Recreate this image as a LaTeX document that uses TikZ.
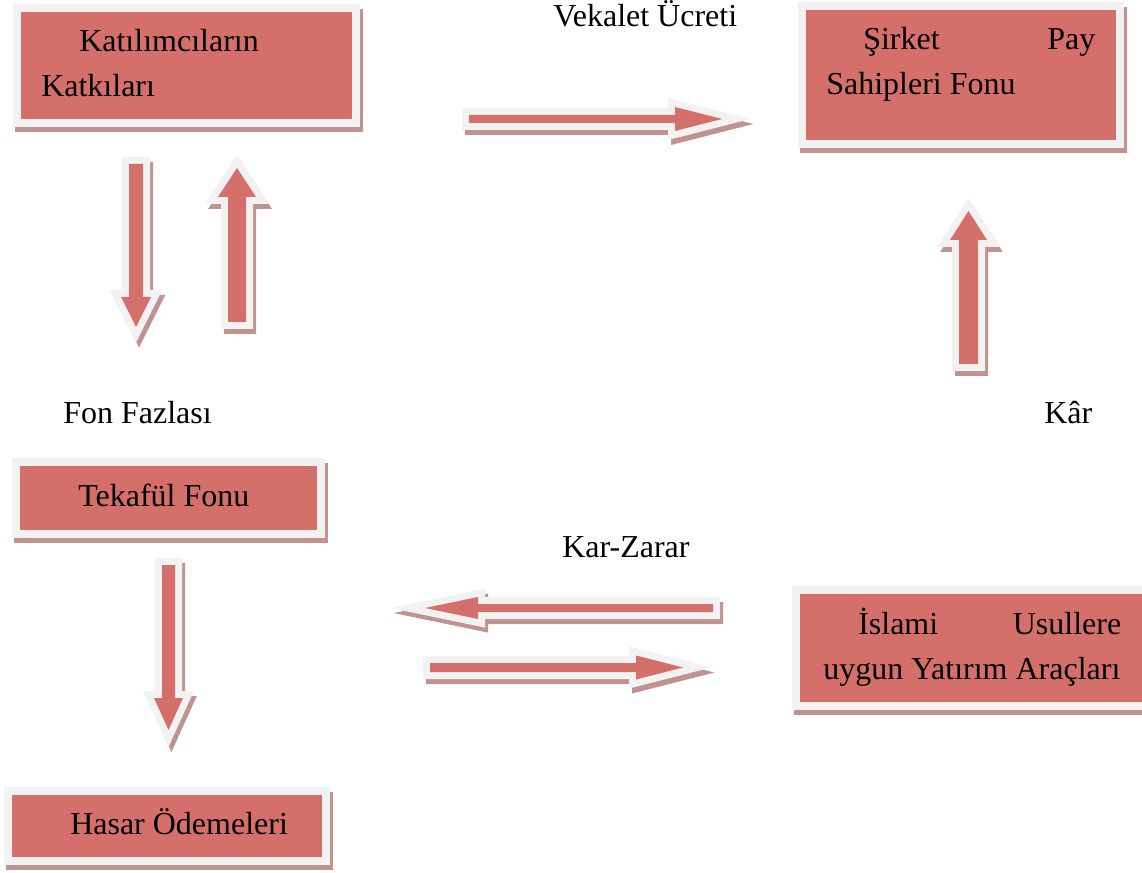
\documentclass[tikz,border=0pt]{standalone}
\usepackage{fontspec}
\setmainfont{Liberation Serif}
\usetikzlibrary{fit}
\definecolor{redc}{HTML}{D46F6A}
\definecolor{lightg}{HTML}{F2F2F2}
\definecolor{shadowc}{HTML}{C09391}
\tikzset{
  redbox/.style={draw=lightg, line width=6pt, fill=redc, inner sep=0pt},
  lbl/.style={anchor=base west, inner sep=0pt, font=\fontsize{24}{33.75}\selectfont},
}
% box: name, inner red x1,y1,x2,y2 (px)
\newcommand\tbox[5]{%
  \fill[shadowc] (#2-6,#3-3) rectangle (#4+11,#5+13);
  \node[redbox, fit={(#2-4,#3-4) (#4+4,#5+4)}] (#1) {};
}
% horizontal block arrow: shaft start xs, head base xh, tip xt, centre y c, half shaft h, half head H
\newcommand\harrow[6]{%
  \filldraw[shadowc, line width=10.5pt, shift={(3,5)}]
    (#1,#4-#5) -- (#2,#4-#5) -- (#2,#4-#6) -- (#3,#4) -- (#2,#4+#6) -- (#2,#4+#5) -- (#1,#4+#5) -- cycle;
  \draw[lightg, line width=10.5pt]
    (#1,#4-#5) -- (#2,#4-#5) -- (#2,#4-#6) -- (#3,#4) -- (#2,#4+#6) -- (#2,#4+#5) -- (#1,#4+#5) -- cycle;
  \fill[redc]
    (#1,#4-#5) -- (#2,#4-#5) -- (#2,#4-#6) -- (#3,#4) -- (#2,#4+#6) -- (#2,#4+#5) -- (#1,#4+#5) -- cycle;
}
% vertical block arrow: shaft start ys, head base yh, tip yt, centre x c, half shaft h, half head H
\newcommand\varrow[6]{%
  \filldraw[shadowc, line width=10.5pt, shift={(3,5)}]
    (#4-#5,#1) -- (#4-#5,#2) -- (#4-#6,#2) -- (#4,#3) -- (#4+#6,#2) -- (#4+#5,#2) -- (#4+#5,#1) -- cycle;
  \draw[lightg, line width=10.5pt]
    (#4-#5,#1) -- (#4-#5,#2) -- (#4-#6,#2) -- (#4,#3) -- (#4+#6,#2) -- (#4+#5,#2) -- (#4+#5,#1) -- cycle;
  \fill[redc]
    (#4-#5,#1) -- (#4-#5,#2) -- (#4-#6,#2) -- (#4,#3) -- (#4+#6,#2) -- (#4+#5,#2) -- (#4+#5,#1) -- cycle;
}
\begin{document}
\begin{tikzpicture}[x=0.75pt, y=-0.75pt]
\useasboundingbox (0,0) rectangle (1142,873);

% boxes
\tbox{katki}{21}{12}{352}{119}
\tbox{sirket}{806}{10}{1116}{140}
\tbox{tekaful}{20}{466}{317}{530}
\tbox{hasar}{12}{795}{322}{857}
\tbox{islami}{800}{594}{1160}{702}

% box texts
\node[lbl] (tkatki) at (41,52) {\parbox[t]{290pt}{\hspace*{28.5pt}Katılımcıların\\Katkıları}};
\node[lbl] (tsirket) at (826,50) {\parbox[t]{201.75pt}{\hspace*{27.75pt}Şirket\hfill Pay\\Sahipleri Fonu}};
\node[lbl] (ttekaful) at (78,506) {Tekafül Fonu};
\node[lbl] (thasar) at (70,834) {Hasar Ödemeleri};
\node[lbl] (tislami) at (823,634) {\parbox[t]{223.5pt}{\hspace*{26.25pt}İslami\hfill Usullere\\uygun Yatırım Araçları}};

% labels
\node[lbl] (lvekalet) at (553,27) {Vekalet Ücreti};
\node[lbl] (lfon) at (63,423) {Fon Fazlası};
\node[lbl] (lkar) at (1044,423) {Kâr};
\node[lbl] (lkarzarar) at (562,557) {Kar-Zarar};

% arrows
\harrow{469}{675}{722}{119}{4}{12}
\harrow{713}{478}{425}{608}{4}{11}
\harrow{430}{636}{683}{667.5}{4.5}{12}
\varrow{164}{297}{327}{136}{7}{15}
\varrow{322}{197}{168}{237}{9}{19}
\varrow{364}{240}{211}{968.5}{9.5}{18.5}
\varrow{565}{698}{730}{168.5}{6.5}{14.5}
\end{tikzpicture}
\end{document}
